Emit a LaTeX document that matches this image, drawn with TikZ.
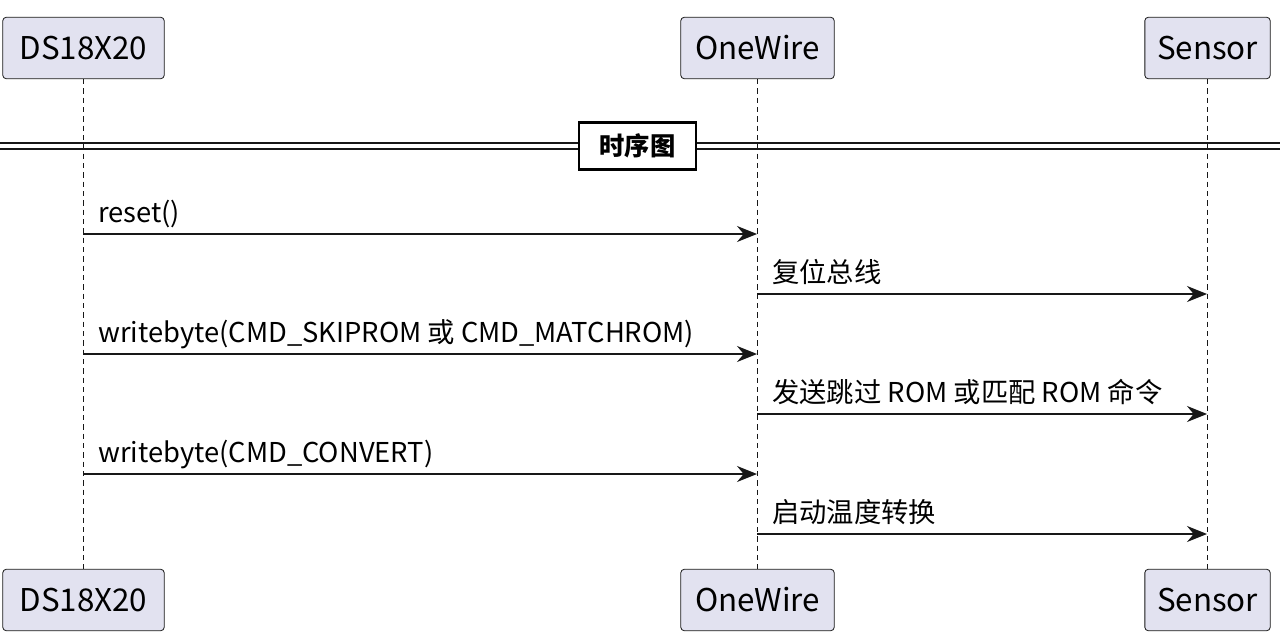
\documentclass[tikz,border=0pt]{standalone}
\usepackage{fontspec}
\setmainfont{Noto Sans CJK SC}
\usetikzlibrary{arrows.meta}
\definecolor{partfill}{HTML}{E2E2F0}
\definecolor{partline}{HTML}{181818}

\begin{document}
\begin{tikzpicture}[x=0.75pt,y=-0.75pt,
    part node/.style={draw=partline,fill=partfill,rounded corners=2.5pt,line width=0.6pt,
      minimum height=46pt,inner xsep=2pt,font=\fontsize{23.5}{28}\selectfont},
    life line/.style={draw=partline,dashed,dash pattern=on 4pt off 3pt,line width=0.5pt},
    msg/.style={-{Stealth[length=15pt,width=12pt,inset=5pt]},draw=partline,line width=1pt},
    msg text/.style={font=\fontsize{20.5}{24}\selectfont,anchor=base west,inner sep=0pt}
    ]
  \useasboundingbox (0,0) rectangle (1280,639);

  % participants
  \node[part node,minimum width=121pt] (ds)  at (83.5,48)   {DS18X20};
  \node[part node,minimum width=115pt] (ow)  at (757.5,48)  {OneWire};
  \node[part node,minimum width=94pt]  (sen) at (1207.5,48) {Sensor};
  \node[part node,minimum width=121pt] (dsb)  at (83.5,600)   {DS18X20};
  \node[part node,minimum width=115pt] (owb)  at (757.5,600)  {OneWire};
  \node[part node,minimum width=94pt]  (senb) at (1207.5,600) {Sensor};

  \draw[life line] (ds) -- (dsb);
  \draw[life line] (ow) -- (owb);
  \draw[life line] (sen) -- (senb);

  % divider
  \draw[partline,line width=1pt] (0,143) -- (1280,143) (0,149) -- (1280,149);
  \node[draw=black,fill=white,line width=1.8pt,minimum width=88pt,minimum height=35pt,
    font=\fontsize{19}{22}\selectfont\bfseries] (sep) at (637.5,146) {时序图};

  % messages
  \foreach \y/\src/\dst/\txt in {
      234/83/757/{reset()},
      294/757/1207/{复位总线},
      354/83/757/{writebyte(CMD\_SKIPROM 或 CMD\_MATCHROM)},
      414/757/1207/{发送跳过 ROM 或匹配 ROM 命令},
      474/83/757/{writebyte(CMD\_CONVERT)},
      534/757/1207/{启动温度转换}} {
    \coordinate (m1) at (\src,\y);
    \coordinate (m2) at (\dst,\y);
    \draw[msg] (m1) -- (m2);
    \node[msg text] at (\src+15,\y-12) {\txt};
  }
\end{tikzpicture}
\end{document}
